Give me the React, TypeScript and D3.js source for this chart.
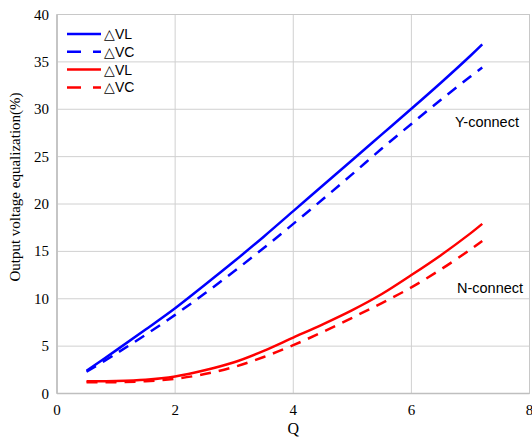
import React from "react";
import * as d3 from "d3";

const qValues = [0.5, 1, 1.5, 2, 2.5, 3, 3.5, 4, 4.5, 5, 5.5, 6, 6.5, 7, 7.2];
const yVL = [2.4, 4.55, 6.75, 9.0, 11.45, 13.95, 16.55, 19.25, 21.95, 24.65, 27.35, 30.05, 32.8, 35.65, 36.85];
const yVC = [2.3, 4.2, 6.2, 8.3, 10.55, 12.9, 15.35, 17.9, 20.5, 23.15, 25.85, 28.45, 31.0, 33.45, 34.4];
const nVL = [1.3, 1.32, 1.45, 1.8, 2.45, 3.3, 4.5, 5.9, 7.3, 8.8, 10.5, 12.5, 14.6, 16.9, 17.9];
const nVC = [1.2, 1.2, 1.3, 1.55, 2.05, 2.8, 3.85, 5.1, 6.5, 8.0, 9.55, 11.2, 13.1, 15.2, 16.1];
const xTicks = [0, 2, 4, 6, 8];
const yTicks = [0, 5, 10, 15, 20, 25, 30, 35, 40];
const legendLabels = ["△VL", "△VC", "△VL", "△VC"];

export default function App() {
  const W = 532, H = 441;
  const left = 57, right = 529.5, top = 14.5, bottom = 393.5;
  const x = d3.scaleLinear().domain([0, 8]).range([left, right]);
  const y = d3.scaleLinear().domain([0, 40]).range([bottom, top]);
  const line = (vals: number[]) =>
    d3.line<number>().x((_, i) => x(qValues[i])).y((v) => y(v)).curve(d3.curveCatmullRom.alpha(0.5))(vals) || "";
  const series = [
    { vals: yVL, color: "#0000ff", dash: null },
    { vals: yVC, color: "#0000ff", dash: "11,8" },
    { vals: nVL, color: "#ff0000", dash: null },
    { vals: nVC, color: "#ff0000", dash: "11,8" },
  ];
  const grid = "#d0d0d0";
  return (
    <svg width={W} height={H} style={{ position: "absolute", left: 0, top: 0, background: "#fff" }}>
      {xTicks.map((t) => (
        <line key={"gx" + t} x1={x(t)} x2={x(t)} y1={top} y2={bottom} stroke={grid} strokeWidth={1} />
      ))}
      {yTicks.map((t) => (
        <line key={"gy" + t} x1={left} x2={right} y1={y(t)} y2={y(t)} stroke={grid} strokeWidth={1} />
      ))}
      <rect x={left} y={top} width={right - left} height={bottom - top} fill="none" stroke="#c8c8c8" strokeWidth={1} />
      <line x1={left} x2={right} y1={bottom} y2={bottom} stroke="#bfbfbf" strokeWidth={1.5} />
      <line x1={left} x2={left} y1={top} y2={bottom} stroke="#bfbfbf" strokeWidth={1.5} />
      {yTicks.map((t) => (
        <text key={"ty" + t} x={49} y={y(t) + 5} textAnchor="end" fontFamily="Liberation Serif" fontSize={15} fill="#000">
          {t}
        </text>
      ))}
      {xTicks.map((t) => (
        <text key={"tx" + t} x={x(t)} y={415} textAnchor="middle" fontFamily="Liberation Serif" fontSize={15} fill="#000">
          {t}
        </text>
      ))}
      <text x={x(4)} y={434} textAnchor="middle" fontFamily="Liberation Serif" fontSize={16} fill="#000">Q</text>
      <text transform={`translate(20,187) rotate(-90)`} textAnchor="middle" fontFamily="Liberation Serif" fontSize={15} fill="#000">
        Output voltage equalization(%)
      </text>
      {series.map((s, i) => (
        <path key={"s" + i} d={line(s.vals)} fill="none" stroke={s.color} strokeWidth={2.5} strokeDasharray={s.dash || undefined} />
      ))}
      {series.map((s, i) => (
        <g key={"lg" + i}>
          <line x1={67} x2={101} y1={34 + i * 17.8} y2={34 + i * 17.8} stroke={s.color} strokeWidth={2.5} strokeDasharray={s.dash ? "14,12" : undefined} />
          <text x={104} y={34 + i * 17.8 + 5} fontFamily="Liberation Sans" fontSize={14} fill="#000">{legendLabels[i]}</text>
        </g>
      ))}
      <text x={455} y={127} fontFamily="Liberation Sans" fontSize={14.5} fill="#000">Y-connect</text>
      <text x={457} y={293} fontFamily="Liberation Sans" fontSize={14.5} fill="#000">N-connect</text>
    </svg>
  );
}
